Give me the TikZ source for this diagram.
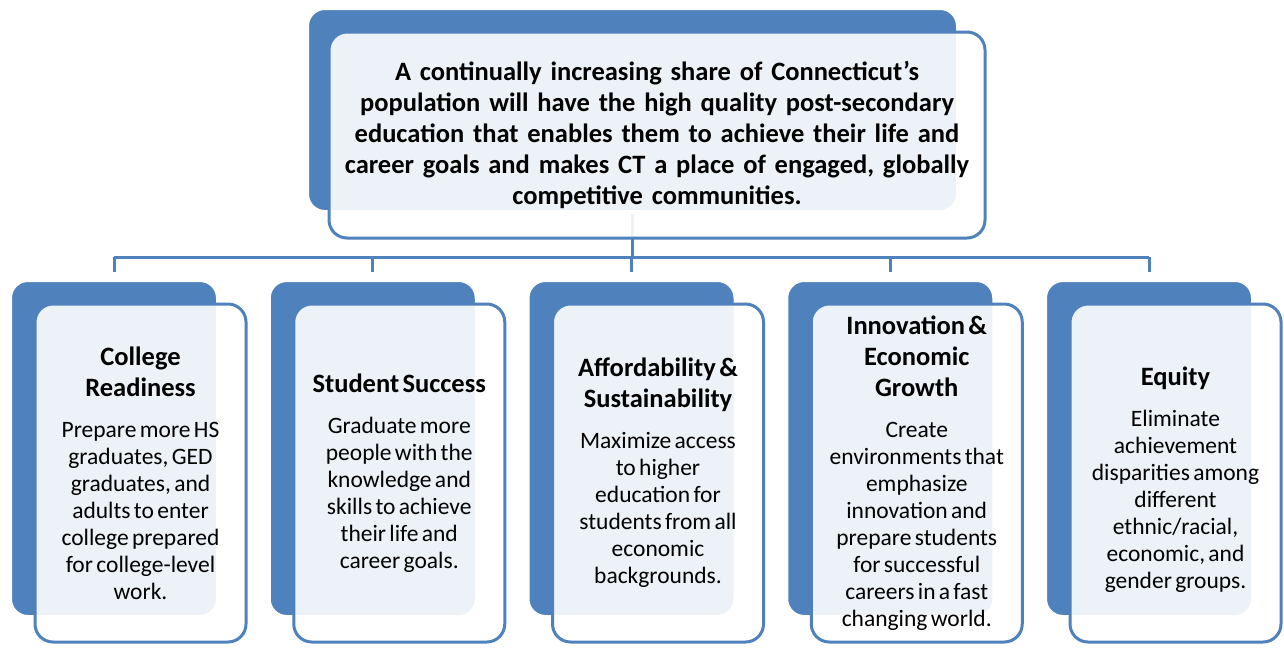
\documentclass[tikz,border=0pt]{standalone}
\usepackage{fontspec}
\setmainfont{Carlito}
\usepackage{tikz}
\usetikzlibrary{backgrounds}
\definecolor{ctblue}{HTML}{4F81BD}
\tikzset{%
  BackStyle/.style={draw=white,line width=4pt,fill=ctblue,rounded corners=18pt,minimum width=208pt,minimum height=337pt},
  FrontStyle/.style={draw=ctblue,line width=3pt,fill=white,fill opacity=0.9,text opacity=1,rounded corners=18pt,minimum width=211pt,minimum height=338pt,text width=206pt,align=center,inner sep=0pt},
  LinkStyle/.style={draw=ctblue,line width=3pt}
}
\newcommand{\boxtitle}[1]{{\fontsize{26.5}{31}\selectfont\bfseries #1\par}\vspace{14pt}}
\newcommand{\boxtext}[1]{{\fontsize{23.5}{27}\selectfont #1\par}}

\begin{document}
\begin{tikzpicture}[x=1pt,y=-1pt]
\useasboundingbox (0,0) rectangle (1284,654);

\node (g0) [BackStyle,minimum width=651pt,minimum height=204pt] at (632.5,110) {};
\foreach \i in {1,...,5} {
    \node (b\i) [BackStyle] at ({114+258.75*(\i-1)},448.5) {};
}

\node (g1) [FrontStyle,minimum width=656pt,minimum height=206pt,text width=650pt,font=\fontsize{26.5}{31}\selectfont\bfseries] at (657,135)
  {A continually increasing share of Connecticut’s\\population will have the high quality post-secondary\\education that enables them to achieve their life and\\career goals and makes CT a place of engaged, globally\\competitive communities.};

\node (f1) [FrontStyle] at (140.5,473) {\boxtitle{College\\Readiness}\boxtext{Prepare more HS\\graduates, GED\\graduates, and\\adults to enter\\college prepared\\for college-level\\work.}};
\node (f2) [FrontStyle] at (399.25,473) {\boxtitle{Student Success}\boxtext{Graduate more\\people with the\\knowledge and\\skills to achieve\\their life and\\career goals.}};
\node (f3) [FrontStyle] at (658,473) {\boxtitle{Affordability \&\\Sustainability}\boxtext{Maximize access\\to higher\\education for\\students from all\\economic\\backgrounds.}};
\node (f4) [FrontStyle] at (916.75,473) {\boxtitle{Innovation \&\\Economic\\Growth}\boxtext{Create\\environments that\\emphasize\\innovation and\\prepare students\\for successful\\careers in a fast\\changing world.}};
\node (f5) [FrontStyle] at (1175.5,473) {\boxtitle{\rule{0pt}{33pt}Equity}\boxtext{Eliminate\\achievement\\disparities among\\different\\ethnic/racial,\\economic, and\\gender groups.}};

\coordinate (bus) at (632,257);

\begin{scope}[on background layer]
    \draw [LinkStyle] (g0.south) -- (g0.south |- bus);
    \draw [LinkStyle,shorten >=6pt] (b1.north |- bus) -- (b1.north);
    \draw [LinkStyle,shorten >=6pt] (b2.north |- bus) -- (b2.north);
    \draw [LinkStyle,shorten >=6pt] (b3.north |- bus) -- (b3.north);
    \draw [LinkStyle,shorten >=6pt] (b4.north |- bus) -- (b4.north);
    \draw [LinkStyle,shorten >=6pt] (b5.north |- bus) -- (b5.north);
    \draw [LinkStyle] (b1.north |- bus) -- (b5.north |- bus);
\end{scope}
\end{tikzpicture}
\end{document}
